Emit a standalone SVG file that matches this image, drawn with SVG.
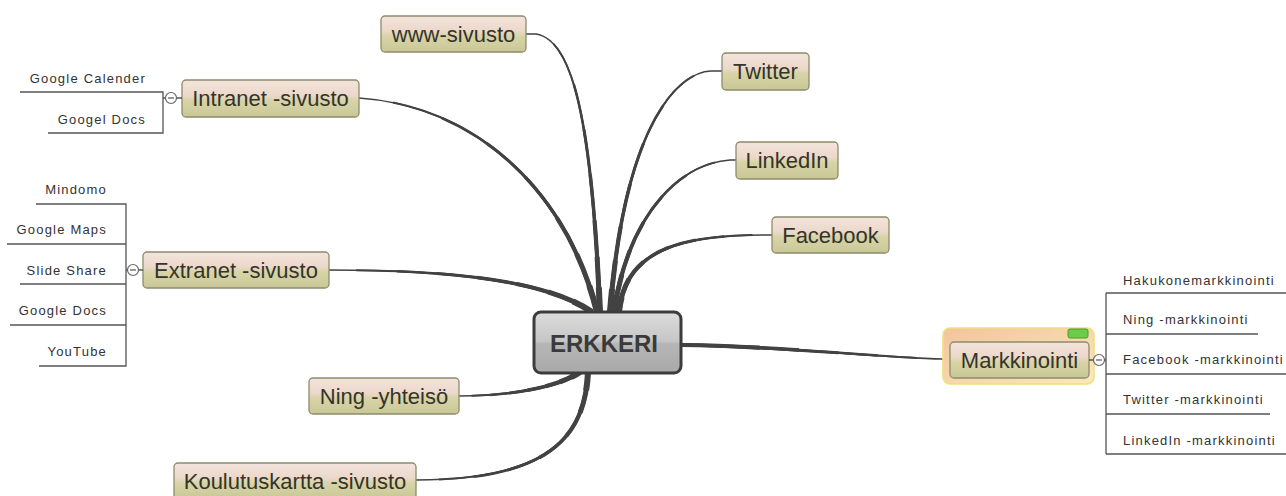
<svg xmlns="http://www.w3.org/2000/svg" width="1286" height="496" viewBox="0 0 1286 496">
<style>
.node rect.box{fill:url(#gTopic);stroke:#8c8c6c;stroke-width:1.3}
.ttl{font-family:"Liberation Sans",Arial,sans-serif;font-size:22px;fill:#34342a;text-anchor:middle}
.sub{font-family:"Liberation Sans",Arial,sans-serif;font-size:13px;letter-spacing:1.2px;fill:#333}
.br{fill:none;stroke:#555;stroke-width:1.3}
.tog{fill:#fff;stroke:#666;stroke-width:1.2}
.t{fill:none;stroke:#424242;stroke-linecap:butt}
.t1{stroke-width:1.6}
.t2{stroke-width:2;stroke-dasharray:90 200;stroke-dashoffset:-10}
.t3{stroke-width:2.5;stroke-dasharray:75 200;stroke-dashoffset:-25}
.t4{stroke-width:3;stroke-dasharray:60 200;stroke-dashoffset:-40}
.t5{stroke-width:3.5;stroke-dasharray:45 200;stroke-dashoffset:-55}
.t6{stroke-width:4.2;stroke-dasharray:30 200;stroke-dashoffset:-70}
.t7{stroke-width:5;stroke-dasharray:18 200;stroke-dashoffset:-82}
.t8{stroke-width:6;stroke-dasharray:8 200;stroke-dashoffset:-92}
</style>
<defs>
<linearGradient id="gTopic" x1="0" y1="0" x2="0" y2="1">
<stop offset="0" stop-color="#f3e4dc"/>
<stop offset="0.42" stop-color="#ecd8ca"/>
<stop offset="0.55" stop-color="#d8d4a8"/>
<stop offset="1" stop-color="#c9c796"/>
</linearGradient>
<linearGradient id="gCenter" x1="0" y1="0" x2="0" y2="1">
<stop offset="0" stop-color="#dcdcdc"/>
<stop offset="0.48" stop-color="#c6c6c6"/>
<stop offset="0.52" stop-color="#b6b6b6"/>
<stop offset="1" stop-color="#a9a9a9"/>
</linearGradient>
<linearGradient id="gSel" x1="0" y1="0" x2="1" y2="1">
<stop offset="0" stop-color="#f3c49c"/>
<stop offset="1" stop-color="#fbe8bc"/>
</linearGradient>
<path id="p1" pathLength="100" d="M526,34 L536,34 C575,40 592,130 600,312"/>
<path id="p2" pathLength="100" d="M722,71 L711,71 C680,72 625,120 610,312"/>
<path id="p3" pathLength="100" d="M736,160 L730,160 C680,163 628,215 614,312"/>
<path id="p4" pathLength="100" d="M772,235 L764,235 C680,235 625,250 619,312"/>
<path id="p5" pathLength="100" d="M359,98 C470,105 565,185 597,312"/>
<path id="p6" pathLength="100" d="M329,270 C450,270 545,280 592,312"/>
<path id="p7" pathLength="100" d="M459,396 C515,396 560,386 580,372"/>
<path id="p8" pathLength="100" d="M416,480 C545,480 585,440 588,372"/>
<path id="p9" pathLength="100" d="M943,359 C870,357 780,346 681,345"/>
</defs>
<rect width="1286" height="496" fill="#fff"/>
<g id="connectors" class="t">
<use href="#p1" class="t1"/><use href="#p1" class="t2"/><use href="#p1" class="t3"/><use href="#p1" class="t4"/><use href="#p1" class="t5"/><use href="#p1" class="t6"/><use href="#p1" class="t7"/><use href="#p1" class="t8"/>
<use href="#p2" class="t1"/><use href="#p2" class="t2"/><use href="#p2" class="t3"/><use href="#p2" class="t4"/><use href="#p2" class="t5"/><use href="#p2" class="t6"/><use href="#p2" class="t7"/><use href="#p2" class="t8"/>
<use href="#p3" class="t1"/><use href="#p3" class="t2"/><use href="#p3" class="t3"/><use href="#p3" class="t4"/><use href="#p3" class="t5"/><use href="#p3" class="t6"/><use href="#p3" class="t7"/><use href="#p3" class="t8"/>
<use href="#p4" class="t1"/><use href="#p4" class="t2"/><use href="#p4" class="t3"/><use href="#p4" class="t4"/><use href="#p4" class="t5"/><use href="#p4" class="t6"/><use href="#p4" class="t7"/><use href="#p4" class="t8"/>
<use href="#p5" class="t1"/><use href="#p5" class="t2"/><use href="#p5" class="t3"/><use href="#p5" class="t4"/><use href="#p5" class="t5"/><use href="#p5" class="t6"/><use href="#p5" class="t7"/><use href="#p5" class="t8"/>
<use href="#p6" class="t1"/><use href="#p6" class="t2"/><use href="#p6" class="t3"/><use href="#p6" class="t4"/><use href="#p6" class="t5"/><use href="#p6" class="t6"/><use href="#p6" class="t7"/><use href="#p6" class="t8"/>
<use href="#p7" class="t1"/><use href="#p7" class="t2"/><use href="#p7" class="t3"/><use href="#p7" class="t4"/><use href="#p7" class="t5"/><use href="#p7" class="t6"/><use href="#p7" class="t7"/><use href="#p7" class="t8"/>
<use href="#p8" class="t1"/><use href="#p8" class="t2"/><use href="#p8" class="t3"/><use href="#p8" class="t4"/><use href="#p8" class="t5"/><use href="#p8" class="t6"/><use href="#p8" class="t7"/><use href="#p8" class="t8"/>
<use href="#p9" class="t1"/><use href="#p9" class="t2"/><use href="#p9" class="t3"/><use href="#p9" class="t4"/><use href="#p9" class="t5"/><use href="#p9" class="t6"/>
</g>
<g id="center" class="node">
<rect x="534" y="312" width="147" height="61" rx="7" fill="url(#gCenter)" stroke="#3c3c3c" stroke-width="3"/>
<text x="604" y="352" font-family="Liberation Sans, Arial, sans-serif" font-size="24" font-weight="bold" fill="#3a3a3a" text-anchor="middle">ERKKERI</text>
</g>
<g id="www" class="node">
<rect class="box" x="381" y="16" width="145" height="36" rx="4"/>
<text class="ttl" x="453.5" y="42">www-sivusto</text>
</g>
<g id="twitter" class="node">
<rect class="box" x="722" y="53" width="87" height="37" rx="4"/>
<text class="ttl" x="765.5" y="79">Twitter</text>
</g>
<g id="linkedin" class="node">
<rect class="box" x="736" y="142" width="102" height="37" rx="4"/>
<text class="ttl" x="787" y="168">LinkedIn</text>
</g>
<g id="facebook" class="node">
<rect class="box" x="772" y="217" width="117" height="36" rx="4"/>
<text class="ttl" x="830.5" y="243">Facebook</text>
</g>
<g id="intranet" class="node">
<rect class="box" x="182" y="80" width="177" height="37" rx="4"/>
<text class="ttl" x="270.5" y="106">Intranet -sivusto</text>
<path class="br" d="M20,92 H163 V133 H48 M163,98 H165.5 M176.5,98 H182"/>
<circle class="tog" cx="171" cy="98" r="5.5"/>
<path d="M168,98 H174" stroke="#555" stroke-width="1.2"/>
<text class="sub" x="146" y="83" text-anchor="end">Google Calender</text>
<text class="sub" x="146" y="124" text-anchor="end">Googel Docs</text>
</g>
<g id="extranet" class="node">
<rect class="box" x="143" y="252" width="186" height="36" rx="4"/>
<text class="ttl" x="236" y="278">Extranet -sivusto</text>
<path class="br" d="M36,204 H126 V366 H39 M7,244 H126 M20,284 H126 M10,325 H126 M126,270 H127.5 M138.5,270 H143"/>
<circle class="tog" cx="133" cy="270" r="5.5"/>
<path d="M130,270 H136" stroke="#555" stroke-width="1.2"/>
<text class="sub" x="107" y="194" text-anchor="end">Mindomo</text>
<text class="sub" x="107" y="234" text-anchor="end">Google Maps</text>
<text class="sub" x="107" y="275" text-anchor="end">Slide Share</text>
<text class="sub" x="107" y="315" text-anchor="end">Google Docs</text>
<text class="sub" x="107" y="356" text-anchor="end">YouTube</text>
</g>
<g id="ning" class="node">
<rect class="box" x="309" y="378" width="150" height="36" rx="4"/>
<text class="ttl" x="384" y="404">Ning -yhteisö</text>
</g>
<g id="koulutuskartta" class="node">
<rect class="box" x="174" y="463" width="242" height="36" rx="4"/>
<text class="ttl" x="295" y="489">Koulutuskartta -sivusto</text>
</g>
<g id="markkinointi" class="node">
<rect x="943" y="328" width="151" height="56" rx="7" fill="url(#gSel)" stroke="#efe07a" stroke-width="1.5"/>
<rect x="1068" y="329" width="20" height="9" rx="2" fill="#6dcc4a" stroke="#4a9a30" stroke-width="1"/>
<rect class="box" x="950" y="342" width="139" height="36" rx="4" stroke="#505050" stroke-width="2"/>
<text class="ttl" x="1019.5" y="368">Markkinointi</text>
<path class="br" d="M1106,293 V454 M1106,293 H1286 M1106,334 H1258 M1106,374 H1286 M1106,414 H1270 M1106,454 H1286 M1089,360 H1093.5 M1104.5,360 H1106"/>
<circle class="tog" cx="1099" cy="360" r="5.5"/>
<path d="M1096,360 H1102" stroke="#555" stroke-width="1.2"/>
<text class="sub" x="1123" y="285">Hakukonemarkkinointi</text>
<text class="sub" x="1123" y="324">Ning -markkinointi</text>
<text class="sub" x="1123" y="364">Facebook -markkinointi</text>
<text class="sub" x="1123" y="404">Twitter -markkinointi</text>
<text class="sub" x="1123" y="445">LinkedIn -markkinointi</text>
</g>
</svg>
